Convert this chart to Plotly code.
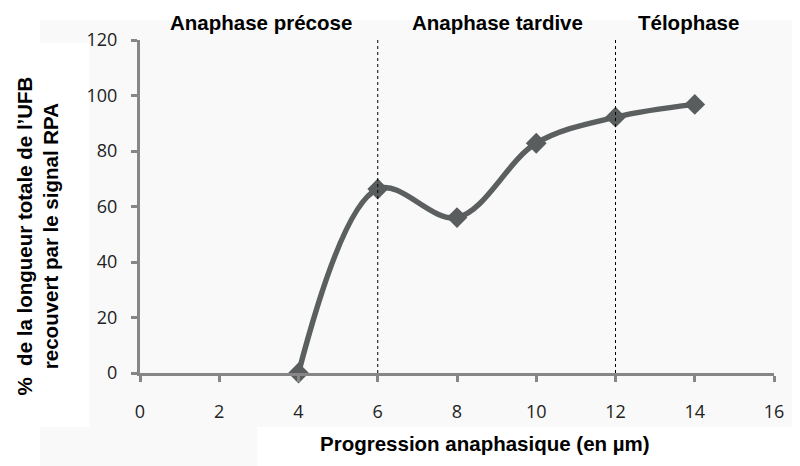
import plotly.graph_objects as go

x_vals = [4, 6, 8, 10, 12, 14]
y_vals = [0, 66.3, 56.0, 82.8, 92.2, 96.8]
x_ticks = [0, 2, 4, 6, 8, 10, 12, 14, 16]
y_ticks = [0, 20, 40, 60, 80, 100, 120]
phase_labels = ["Anaphase précose", "Anaphase tardive", "Télophase"]
phase_label_x = [3.06, 9.02, 13.84]
phase_bounds = [6, 12]

TF = "Liberation Sans, Arial"

fig = go.Figure()
fig.add_trace(go.Scatter(
    x=x_vals, y=y_vals, mode="lines+markers",
    line=dict(color="#5b5f5f", width=5.5, shape="spline", smoothing=1.0),
    marker=dict(symbol="diamond", size=16, color="#595d5d", line=dict(width=0)),
    cliponaxis=False, showlegend=False,
))

bg = "#f9f9f9"
shapes = [
    dict(type="rect", xref="paper", yref="paper", x0=-0.080, x1=1.06, y0=-0.162, y1=1.06,
         fillcolor=bg, line=dict(width=0), layer="below"),
    dict(type="rect", xref="paper", yref="paper", x0=-0.158, x1=-0.080, y0=0.991, y1=1.06,
         fillcolor=bg, line=dict(width=0), layer="below"),
    dict(type="rect", xref="paper", yref="paper", x0=-0.158, x1=0.185, y0=-0.30, y1=-0.162,
         fillcolor=bg, line=dict(width=0), layer="below"),
]
for b in phase_bounds:
    shapes.append(dict(type="line", xref="x", yref="paper", x0=b, x1=b, y0=0, y1=1.006,
                       line=dict(color="black", width=1, dash="dot")))

annotations = []
for t, px in zip(phase_labels, phase_label_x):
    annotations.append(dict(text=f"<b>{t}</b>", x=px, y=1.0, xref="x", yref="paper",
                            yanchor="middle", yshift=18, showarrow=False,
                            font=dict(family=TF, size=20.5, color="black")))
annotations.append(dict(text="<b>%  de la longueur totale de l’UFB<br>recouvert par le signal RPA</b>",
                        x=0, y=0.5, xref="paper", yref="paper", xanchor="center", yanchor="middle",
                        xshift=-103, yshift=-30, textangle=-90, showarrow=False,
                        font=dict(family=TF, size=20.5, color="black")))
annotations.append(dict(text="<b>Progression anaphasique (en µm)</b>",
                        x=0.544, y=0, xref="paper", yref="paper", xanchor="center", yanchor="middle",
                        yshift=-70, showarrow=False,
                        font=dict(family=TF, size=20.5, color="black")))

fig.update_layout(
    width=800, height=466,
    margin=dict(l=132, r=34, t=32, b=101),
    paper_bgcolor="white", plot_bgcolor=bg,
    shapes=shapes, annotations=annotations,
    xaxis=dict(range=[0, 16], tickvals=x_ticks, showgrid=False, zeroline=False,
               showline=True, linecolor="#868686", linewidth=3,
               ticks="outside", ticklen=6, tickwidth=3, tickcolor="#868686",
               ticklabelstandoff=14,
               tickfont=dict(family="Open Sans, Liberation Sans", size=18, color="#222222")),
    yaxis=dict(range=[0, 120], tickvals=y_ticks, showgrid=False, zeroline=False,
               showline=True, linecolor="#868686", linewidth=3,
               ticks="outside", ticklen=6, tickwidth=3, tickcolor="#868686",
               ticklabelstandoff=10,
               tickfont=dict(family="Open Sans, Liberation Sans", size=18, color="#222222")),
)

fig.write_html("out.html")
